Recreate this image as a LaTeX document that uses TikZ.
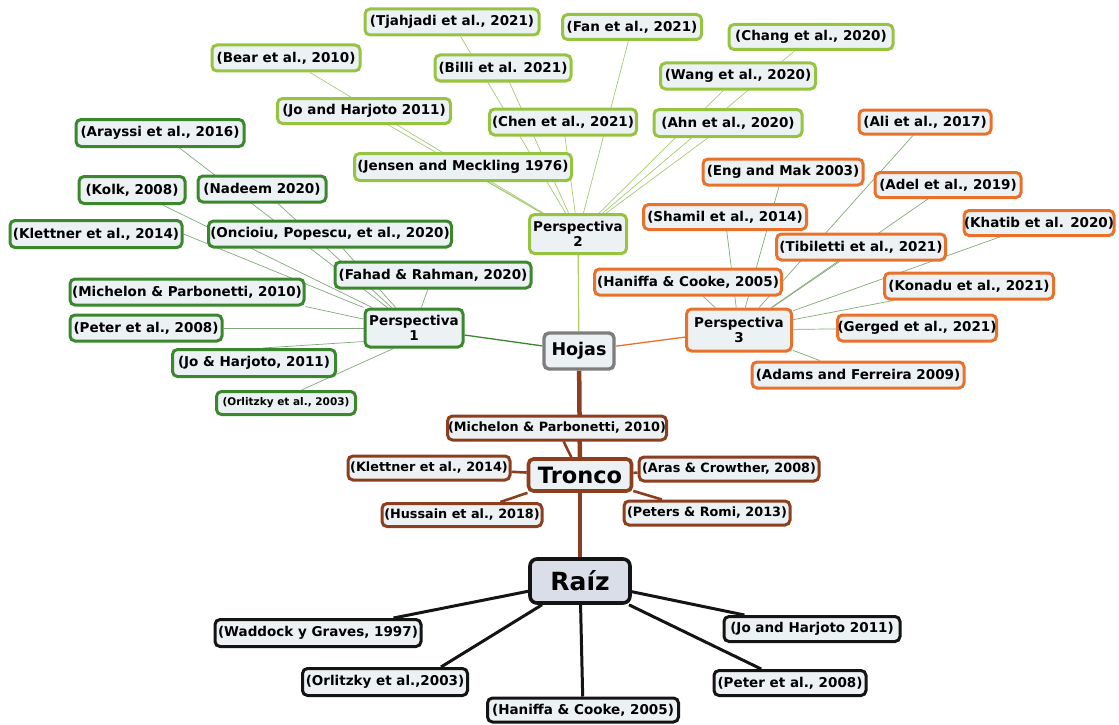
\documentclass[tikz,border=0pt]{standalone}
\usepackage{fontspec}
\setmainfont{DejaVu Sans}
\pgfdeclarelayer{background}
\pgfsetlayers{background,main}
\definecolor{boxfill}{RGB}{236,241,244}
\definecolor{raizfill}{RGB}{218,222,232}
\definecolor{lgreen}{RGB}{150,196,64}
\definecolor{dgreen}{RGB}{58,135,45}
\definecolor{orng}{RGB}{232,114,44}
\definecolor{brwn}{RGB}{140,62,30}
\definecolor{hgray}{RGB}{125,125,125}
\definecolor{blk}{RGB}{20,20,20}
\definecolor{lgedge}{RGB}{165,203,112}
\definecolor{dgedge}{RGB}{128,168,122}
\definecolor{ogedge}{RGB}{128,172,116}
\tikzset{
  box/.style={draw, rounded corners=5pt, line width=3pt, fill=boxfill, inner sep=0pt, align=center,
    font=\bfseries\fontsize{13.5}{15.5}\selectfont},
  lg/.style={box, draw=lgreen},
  dg/.style={box, draw=dgreen},
  og/.style={box, draw=orng},
  br/.style={box, draw=brwn, font=\bfseries\fontsize{12.8}{14}\selectfont},
  bk/.style={box, draw=blk},
  e2/.style={draw=lgedge, line width=0.7pt},
  e1/.style={draw=dgedge, line width=0.7pt},
  e3/.style={draw=ogedge, line width=0.7pt},
}
\begin{document}
\begin{tikzpicture}[x=1pt,y=-1pt]
\useasboundingbox (0,0) rectangle (1119,725);
% Perspectiva 2 group
\node[lg, minimum width=174, minimum height=26] (tjah) at (452,22) {(Tjahjadi et al., 2021)};
\node[lg, minimum width=139, minimum height=25] (fan) at (632,27) {(Fan et al., 2021)};
\node[lg, minimum width=164, minimum height=25] (chang) at (811,37) {(Chang et al., 2020)};
\node[lg, minimum width=148, minimum height=26] (bear) at (286,58) {(Bear et al., 2010)};
\node[lg, minimum width=136, minimum height=26] (billi) at (503,68) {(Billi et al. 2021)};
\node[lg, minimum width=155, minimum height=26] (wang) at (738,76) {(Wang et al., 2020)};
\node[lg, minimum width=173, minimum height=25] (johar) at (364,111) {(Jo and Harjoto 2011)};
\node[lg, minimum width=147, minimum height=26] (chen) at (563,122) {(Chen et al., 2021)};
\node[lg, minimum width=148, minimum height=27] (ahn) at (728,123) {(Ahn et al., 2020)};
\node[lg, minimum width=217, minimum height=27] (jensen) at (463,167) {(Jensen and Meckling 1976)};
\node[lg, minimum width=97, minimum height=39] (p2) at (578,234) {Perspectiva\\2};
% Perspectiva 1 group
\node[dg, minimum width=168, minimum height=27] (arayssi) at (160,133) {(Arayssi et al., 2016)};
\node[dg, minimum width=106, minimum height=27] (kolk) at (132,190) {(Kolk, 2008)};
\node[dg, minimum width=128, minimum height=26] (nadeem) at (262,189) {(Nadeem 2020)};
\node[dg, minimum width=172, minimum height=27] (klett) at (96,234) {(Klettner et al., 2014)};
\node[dg, minimum width=243, minimum height=26] (onc) at (330,234) {(Oncioiu, Popescu, et al., 2020)};
\node[dg, minimum width=196, minimum height=26] (fahad) at (433,275) {(Fahad \& Rahman, 2020)};
\node[dg, minimum width=234, minimum height=26] (mich) at (187,292) {(Michelon \& Parbonetti, 2010)};
\node[dg, minimum width=152, minimum height=26] (peter) at (146,328) {(Peter et al., 2008)};
\node[dg, minimum width=163, minimum height=27] (jo) at (254,363) {(Jo \& Harjoto, 2011)};
\node[dg, minimum width=139, minimum height=23, font=\bfseries\fontsize{10.5}{12}\selectfont] (orl) at (286,403) {(Orlitzky et al., 2003)};
\node[dg, minimum width=98, minimum height=38] (p1) at (414,328) {Perspectiva\\1};
% Perspectiva 3 group
\node[og, minimum width=132, minimum height=24] (ali) at (925,122) {(Ali et al., 2017)};
\node[og, minimum width=160, minimum height=26] (eng) at (783,172) {(Eng and Mak 2003)};
\node[og, minimum width=146, minimum height=25] (adel) at (948,185) {(Adel et al., 2019)};
\node[og, minimum width=163, minimum height=25] (shamil) at (725,217) {(Shamil et al., 2014)};
\node[og, minimum width=145, minimum height=25] (khatib) at (1039,223) {(Khatib et al. 2020)};
\node[og, minimum width=169, minimum height=26] (tib) at (861,247) {(Tibiletti et al., 2021)};
\node[og, minimum width=187, minimum height=26] (hanif) at (688,282) {(Haniffa \& Cooke, 2005)};
\node[og, minimum width=169, minimum height=26] (konadu) at (969,286) {(Konadu et al., 2021)};
\node[og, minimum width=158, minimum height=26] (gerged) at (917,328) {(Gerged et al., 2021)};
\node[og, minimum width=212, minimum height=26] (adams) at (858,375) {(Adams and Ferreira 2009)};
\node[og, minimum width=105, minimum height=42] (p3) at (739,330) {Perspectiva\\3};
% Hojas, Tronco, Raiz
\node[box, draw=hgray, line width=3.4pt, minimum width=70, minimum height=36, font=\bfseries\fontsize{17.5}{20}\selectfont] (hojas) at (579,351) {Hojas};
\node[box, draw=brwn, line width=3.6pt, minimum width=103, minimum height=32, font=\bfseries\fontsize{22.5}{26}\selectfont] (tronco) at (580,475) {Tronco};
\node[box, draw=blk, fill=raizfill, line width=3.6pt, rounded corners=7pt, minimum width=100, minimum height=44, font=\bfseries\fontsize{25}{30}\selectfont] (raiz) at (580,581) {Raíz};
% Tronco children
\node[br, minimum width=219, minimum height=24] (michb) at (557,428) {(Michelon \& Parbonetti, 2010)};
\node[br, minimum width=162, minimum height=24] (klettb) at (429,468) {(Klettner et al., 2014)};
\node[br, minimum width=180, minimum height=24] (aras) at (729,469) {(Aras \& Crowther, 2008)};
\node[br, minimum width=160, minimum height=23] (huss) at (462,515) {(Hussain et al., 2018)};
\node[br, minimum width=166, minimum height=24] (peters) at (707,513) {(Peters \& Romi, 2013)};
% Raiz children
\node[bk, minimum width=206, minimum height=27] (wadd) at (318,633) {(Waddock y Graves, 1997)};
\node[bk, minimum width=176, minimum height=25] (jobk) at (812,629) {(Jo and Harjoto 2011)};
\node[bk, minimum width=165, minimum height=27] (orlbk) at (385,682) {(Orlitzky et al.,2003)};
\node[bk, minimum width=152, minimum height=25] (peterbk) at (790,683) {(Peter et al., 2008)};
\node[bk, minimum width=191, minimum height=24] (hanbk) at (583,710) {(Haniffa \& Cooke, 2005)};
\begin{pgfonlayer}{background}
  \foreach \n in {tjah,fan,chang,bear,billi,wang,johar,chen,ahn,jensen}
    \draw[e2] (\n) -- (p2);
  \foreach \n in {arayssi,kolk,nadeem,onc,fahad,peter}
    \draw[e1] (\n) -- (p1);
  \draw[e1] (klett.east) -- (p1.north west);
  \draw[e1] (mich.south east) -- (p1.170);
  \draw[e1] (jo.60) -- (p1.195);
  \draw[e1] (orl.40) -- (p1.225);
  \foreach \n in {ali,eng,adel,shamil,khatib,tib,hanif,konadu,gerged,adams}
    \draw[e3] (\n) -- (p3);
  \draw[draw=dgreen, line width=1.3pt] (p1) -- (hojas);
  \draw[draw=lgreen!80, line width=1.2pt] (p2) -- (hojas);
  \draw[draw=orng, line width=1.3pt] (p3) -- (hojas);
  \draw[draw=brwn, line width=4.5pt] (hojas) -- (tronco);
  \draw[draw=brwn, line width=4.5pt] (tronco) -- (raiz);
  \foreach \n in {michb,klettb,aras,huss,peters}
    \draw[draw=brwn, line width=2.6pt] (\n) -- (tronco);
  \foreach \n in {wadd,jobk,peterbk,hanbk}
    \draw[draw=blk, line width=3pt] (\n) -- (raiz);
  \draw[draw=blk, line width=3pt] ([xshift=56pt]orlbk.north) -- ([xshift=-38pt]raiz.south);
\end{pgfonlayer}
\end{tikzpicture}
\end{document}
